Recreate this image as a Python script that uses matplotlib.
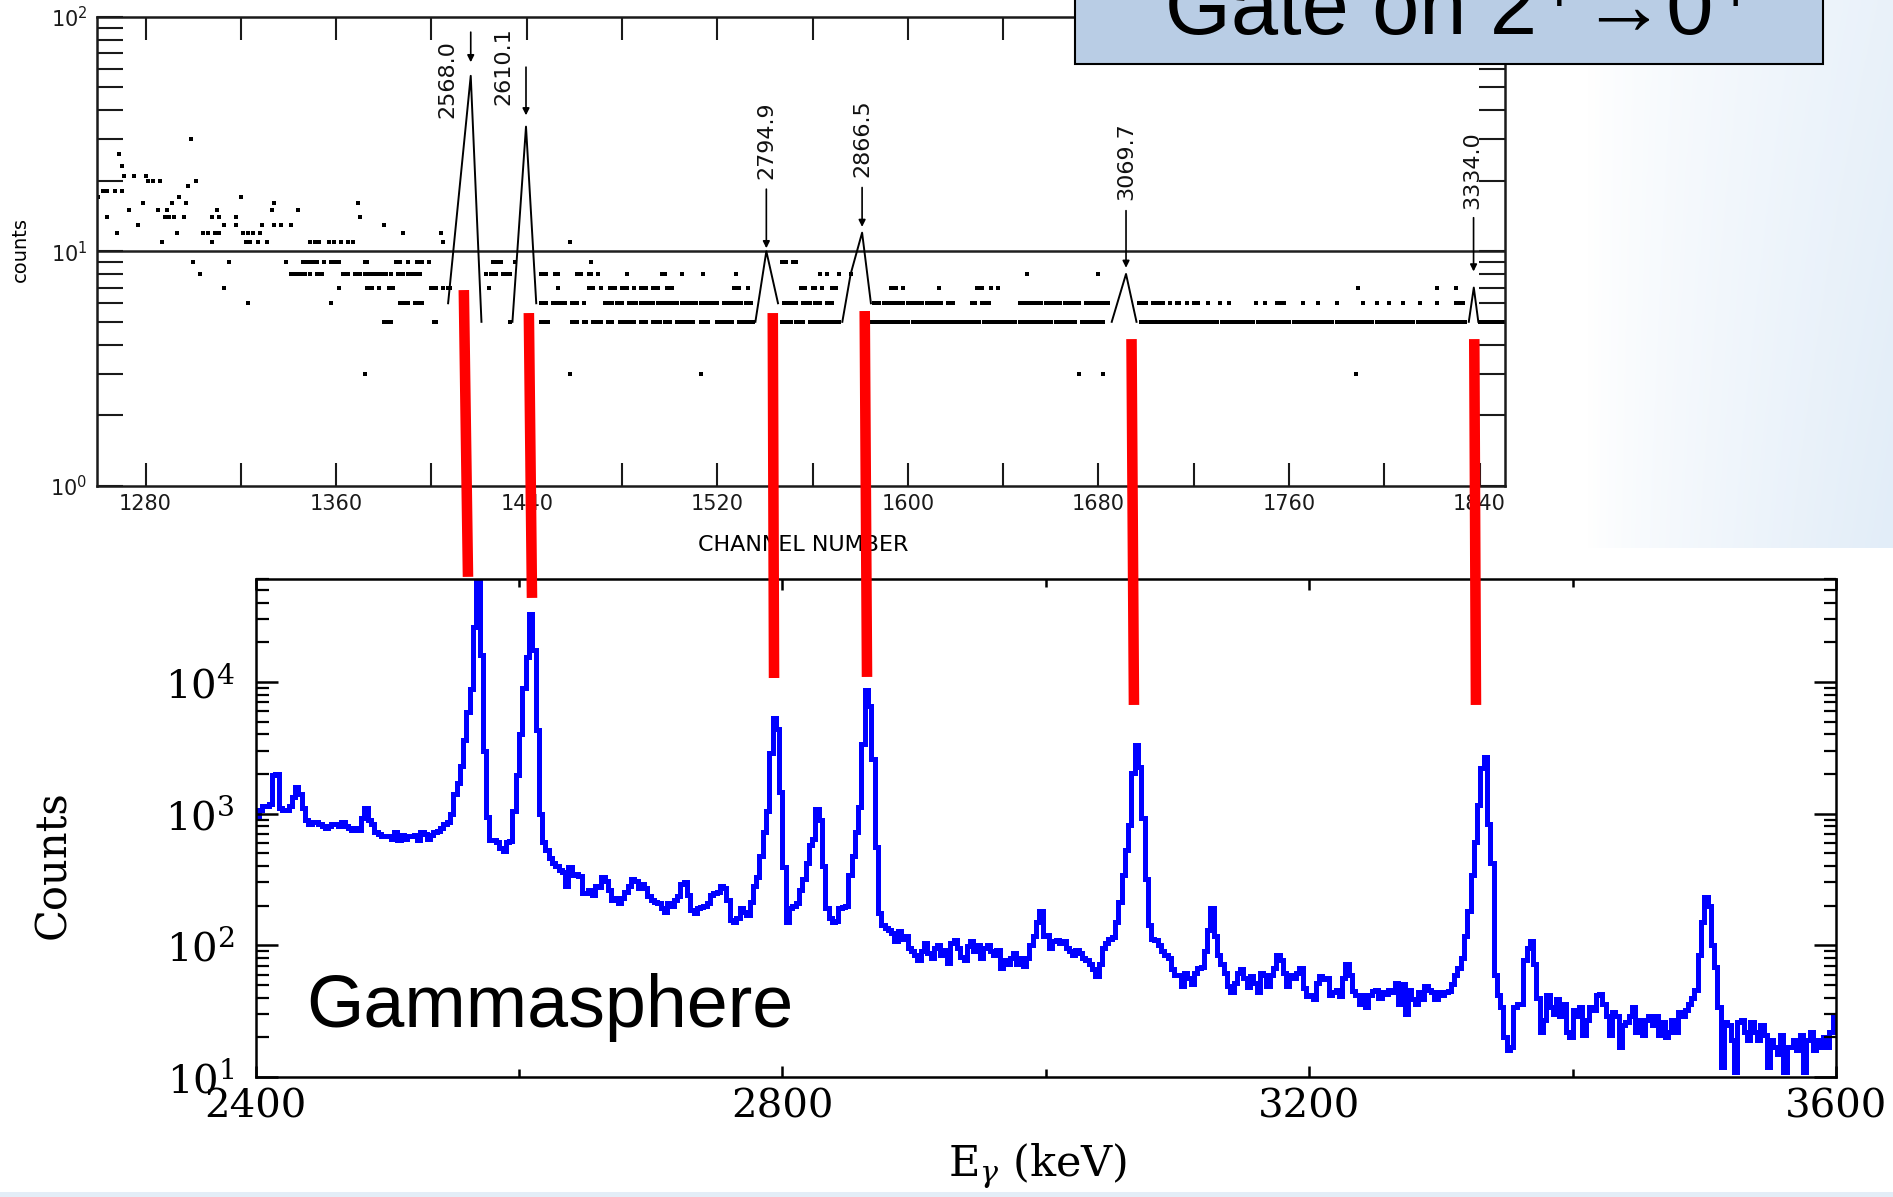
import numpy as np
import matplotlib
matplotlib.use("Agg")
import matplotlib.pyplot as plt
from matplotlib.patches import Rectangle, ConnectionPatch
from matplotlib.ticker import MultipleLocator, FixedLocator, LogLocator, NullFormatter
from matplotlib.colors import LinearSegmentedColormap

W, H = 1893, 1197

# ------------------------------------------------------------------
# top panel: old spectrum, counts vs channel number
# ------------------------------------------------------------------
top_xlim = (1259.6, 1850.7)
top_ylim = (1, 100)
top_yticks = [1, 10, 100]
top_ytick_labels = [r"$10^{0}$", r"$10^{1}$", r"$10^{2}$"]

# single points above the 10-count line (channel, counts)
top_points = [
    (1260, 17), (1262, 18), (1264, 18), (1264, 14), (1267, 18), (1268, 12),
    (1269, 26), (1270, 23), (1270, 18), (1271, 21), (1273, 15), (1275, 21),
    (1277, 13), (1279, 16), (1280, 21), (1281, 20), (1283, 20), (1285, 15),
    (1286, 20), (1287, 11), (1288, 14), (1289, 15), (1290, 14), (1291, 16),
    (1292, 14), (1293, 12), (1294, 17), (1296, 14), (1297, 16), (1298, 19),
    (1299, 30), (1301, 20), (1304, 12), (1306, 12), (1308, 11), (1308, 14),
    (1309, 12), (1310, 15), (1311, 14), (1311, 12), (1313, 13), (1318, 14),
    (1318, 13), (1320, 17), (1321, 12), (1322, 11), (1323, 12), (1324, 11),
    (1325, 12), (1327, 11), (1328, 12), (1329, 13), (1331, 11), (1333, 15),
    (1334, 16), (1334, 13), (1337, 13), (1341, 13), (1344, 15), (1349, 11),
    (1351, 11), (1353, 11), (1357, 11), (1359, 11), (1362, 11), (1365, 11),
    (1367, 11), (1369, 16), (1370, 14), (1380, 13), (1388, 12), (1404, 12),
    (1405, 11), (1458, 11),
]

# runs of neighbouring channels that share one count level (first, last)
runs_9 = [(1300, 1300), (1315, 1315), (1339, 1339), (1346, 1348), (1350, 1352),
          (1355, 1355), (1358, 1361), (1372, 1373), (1385, 1387), (1390, 1390),
          (1394, 1396), (1399, 1399), (1426, 1429), (1435, 1435), (1467, 1467),
          (1547, 1549), (1552, 1553)]
runs_8 = [(1303, 1303), (1341, 1343), (1345, 1347), (1349, 1349), (1352, 1354),
          (1363, 1365), (1368, 1370), (1372, 1377), (1379, 1381), (1383, 1383),
          (1386, 1388), (1390, 1395), (1423, 1423), (1425, 1427), (1430, 1433),
          (1446, 1448), (1452, 1453), (1461, 1463), (1466, 1467), (1470, 1470),
          (1482, 1482), (1497, 1498), (1505, 1505), (1514, 1514), (1528, 1528),
          (1563, 1563), (1566, 1566), (1571, 1571), (1576, 1576), (1650, 1650),
          (1680, 1680)]
runs_7 = [(1313, 1313), (1361, 1361), (1373, 1375), (1378, 1378), (1382, 1384),
          (1400, 1402), (1405, 1405), (1407, 1408), (1424, 1424), (1453, 1453),
          (1466, 1468), (1471, 1471), (1475, 1477), (1480, 1482), (1485, 1485),
          (1488, 1490), (1493, 1495), (1499, 1501), (1527, 1529), (1533, 1533),
          (1555, 1557), (1560, 1561), (1564, 1564), (1568, 1570), (1593, 1595),
          (1598, 1598), (1613, 1613), (1629, 1631), (1635, 1635), (1638, 1638),
          (1789, 1789), (1822, 1822), (1830, 1830)]
runs_6 = [(1323, 1323), (1358, 1358), (1387, 1390), (1393, 1396), (1446, 1448),
          (1451, 1456), (1459, 1461), (1464, 1464), (1473, 1476), (1478, 1480),
          (1483, 1486), (1488, 1493), (1495, 1503), (1505, 1511), (1513, 1520),
          (1523, 1530), (1532, 1534), (1548, 1553), (1556, 1559), (1561, 1563),
          (1566, 1568), (1586, 1588), (1590, 1598), (1600, 1606), (1608, 1614),
          (1617, 1619), (1627, 1628), (1631, 1634), (1647, 1656), (1658, 1664),
          (1666, 1672), (1675, 1684), (1697, 1700), (1703, 1707), (1710, 1710),
          (1713, 1714), (1717, 1717), (1720, 1722), (1726, 1726), (1731, 1731),
          (1735, 1735), (1746, 1746), (1750, 1750), (1755, 1758), (1766, 1766),
          (1772, 1772), (1780, 1780), (1791, 1791), (1797, 1797), (1802, 1802),
          (1808, 1808), (1815, 1815), (1822, 1822), (1830, 1833)]
runs_5 = [(1380, 1383), (1401, 1402), (1433, 1433), (1446, 1449), (1459, 1461),
          (1464, 1465), (1468, 1471), (1474, 1476), (1479, 1485), (1488, 1490),
          (1493, 1496), (1498, 1500), (1503, 1510), (1513, 1516), (1520, 1526),
          (1529, 1535), (1547, 1551), (1553, 1556), (1559, 1563), (1565, 1571),
          (1585, 1600), (1602, 1615), (1617, 1630), (1632, 1645), (1647, 1660),
          (1662, 1670), (1673, 1682), (1698, 1712), (1714, 1730), (1732, 1745),
          (1747, 1760), (1762, 1778), (1780, 1795), (1797, 1812), (1814, 1834),
          (1840, 1850)]
runs_3 = [(1372, 1372), (1458, 1458), (1513, 1513), (1672, 1672), (1682, 1682),
          (1788, 1788)]
run_levels = [9, 8, 7, 6, 5, 3]

# peaks, drawn as connected points
peak_labels = ["2568.0", "2610.1", "2794.9", "2866.5", "3069.7", "3334.0"]
peak_ch = [[1407, 1416.5, 1421], [1434, 1439.7, 1444], [1536, 1540.6, 1545.5],
           [1572.5, 1576, 1580.8, 1584.5], [1685.6, 1691.6, 1696], [1835.5, 1837.6, 1839.5]]
peak_cnt = [[6, 56, 5], [5, 34, 6], [5, 10, 6], [5, 8, 12, 6], [5, 8, 5], [5, 7, 5]]
arrow_ch = [1416.5, 1439.7, 1540.6, 1580.8, 1691.6, 1837.5]
arrow_top = [86, 61, 18.4, 18.7, 14.9, 13.9]
arrow_tip = [64, 38, 10.3, 12.7, 8.5, 8.2]
label_ch = [1406.9, 1430.3, 1540.5, 1580.8, 1691.6, 1837.0]
label_cnt = [36.9, 42.0, 20.4, 20.8, 16.5, 15.1]

# ------------------------------------------------------------------
# bottom panel: Gammasphere spectrum, 2.5 keV bins from 2400 keV
# ------------------------------------------------------------------
E_START, BIN_KEV = 2400, 2.5
gs_counts = [
    950, 1070, 1150, 1150, 1180, 1970, 2000, 1100, 1060, 1070, 1150, 1340, 1600, 1400, 1100, 890, 830, 860, 870, 840,
    800, 780, 810, 830, 840, 810, 860, 800, 780, 750, 780, 750, 920, 1100, 890, 830, 720, 700, 680, 670,
    680, 645, 730, 630, 690, 645, 670, 680, 690, 630, 730, 700, 645, 690, 730, 740, 780, 830, 860, 1000,
    1400, 1700, 2280, 3620, 5900, 8900, 26000, 57000, 16000, 3000, 950, 630, 630, 610, 545, 520, 610, 620, 1040, 1970,
    4000, 9000, 15500, 33000, 17500, 4300, 1000, 610, 530, 460, 420, 400, 375, 360, 280, 390, 342, 350, 335, 250,
    250, 265, 240, 280, 275, 330, 310, 265, 222, 230, 210, 230, 255, 280, 320, 310, 270, 290, 270, 235,
    222, 215, 210, 191, 180, 210, 200, 220, 235, 290, 300, 240, 186, 175, 191, 196, 200, 210, 240, 250,
    255, 280, 270, 222, 155, 150, 160, 191, 180, 170, 215, 280, 330, 480, 730, 1040, 2860, 5300, 4400, 1450,
    390, 150, 191, 200, 210, 265, 320, 420, 580, 640, 1080, 900, 400, 191, 160, 150, 152, 191, 196, 200,
    342, 480, 730, 1130, 3400, 8600, 6600, 2600, 560, 176, 143, 135, 130, 125, 107, 128, 112, 117, 95, 90,
    84, 77, 90, 104, 88, 80, 95, 100, 84, 92, 74, 104, 110, 95, 82, 77, 98, 107, 90, 100,
    80, 95, 100, 90, 84, 92, 67, 77, 72, 80, 88, 72, 80, 70, 80, 100, 117, 150, 182, 117,
    120, 95, 107, 110, 104, 107, 95, 90, 84, 92, 88, 80, 77, 72, 66, 58, 72, 95, 104, 112,
    115, 150, 215, 342, 530, 820, 2050, 3300, 2250, 930, 320, 143, 112, 110, 100, 90, 84, 80, 66, 60,
    60, 49, 62, 56, 51, 62, 67, 69, 90, 130, 191, 117, 84, 72, 62, 49, 44, 52, 62, 66,
    56, 48, 58, 52, 44, 62, 60, 49, 60, 67, 84, 78, 62, 49, 60, 56, 62, 67, 47, 41,
    42, 39, 52, 58, 55, 56, 42, 44, 46, 41, 56, 72, 60, 45, 42, 36, 42, 34, 42, 45,
    46, 40, 44, 43, 46, 44, 52, 36, 51, 30, 46, 39, 36, 44, 39, 49, 46, 44, 39, 44,
    42, 44, 45, 51, 60, 67, 80, 117, 182, 342, 612, 1160, 2200, 2680, 840, 420, 60, 42, 34, 20,
    16, 17, 34, 36, 36, 77, 95, 107, 72, 40, 22, 27, 42, 34, 30, 39, 29, 36, 22, 20,
    32, 29, 34, 21, 27, 34, 32, 42, 43, 36, 29, 21, 31, 29, 17, 25, 26, 29, 34, 22,
    27, 21, 27, 29, 25, 29, 21, 26, 20, 22, 27, 22, 31, 29, 32, 36, 40, 46, 84, 150,
    234, 200, 100, 69, 34, 12, 26, 25, 19, 11, 26, 27, 22, 19, 26, 22, 19, 25, 21, 12,
    19, 17, 15, 21, 11, 17, 17, 19, 16, 21, 11, 19, 22, 16, 19, 17, 20, 17, 22, 29,
]
bot_xticks = [2400, 2800, 3200, 3600]
bot_yticks = [10, 100, 1000, 10000]
bot_ytick_labels = [r"$10^{1}$", r"$10^{2}$", r"$10^{3}$", r"$10^{4}$"]

# red guide lines: top panel (channel, counts) -> bottom panel (keV, counts)
red_top_ch = [1413.6, 1440.9, 1543.3, 1581.9, 1693.9, 1837.8]
red_top_cnt = [6.83, 5.45, 5.45, 5.56, 4.22, 4.22]
red_bot_kev = [2561.2, 2609.8, 2793.6, 2864.2, 3066.9, 3326.6]
red_bot_cnt = [62700, 43400, 10700, 10900, 6680, 6680]

# ------------------------------------------------------------------
fig = plt.figure(figsize=(W / 100, H / 100), dpi=100)

# slide background, pale blue toward the upper right corner
ax_bg = fig.add_axes([1587 / W, 1 - 548 / H, (W - 1587) / W, 548 / H], zorder=-5)
gy, gx = np.mgrid[0:1:120j, 0:1:120j]
bg_cmap = LinearSegmentedColormap.from_list("slide", ["#ffffff", "#e2edf8"])
ax_bg.imshow(np.clip(gx ** 0.8 * (0.75 + 0.25 * gy), 0, 1), cmap=bg_cmap, aspect="auto",
             interpolation="bilinear", vmin=0, vmax=1)
ax_bg.axis("off")
fig.add_artist(Rectangle((0, 0), 1, 5 / H, transform=fig.transFigure,
                         facecolor="#e3edf7", edgecolor="none", zorder=-4))

# ---- top panel ----
ax_top = fig.add_axes([97 / W, 1 - 485.7 / H, 1408 / W, 468.9 / H])
ax_top.set_yscale("log")
ax_top.set_xlim(*top_xlim)
ax_top.set_ylim(*top_ylim)

ax_top.axhline(10, color="#202020", lw=1.8, zorder=1)
px, py = zip(*top_points)
ax_top.scatter(px, py, marker="s", s=6, color="black", linewidths=0, zorder=2)
for runs, lvl in zip([runs_9, runs_8, runs_7, runs_6, runs_5, runs_3], run_levels):
    xs = []
    for a, b in runs:
        xs.extend(range(a, b + 1))
    ax_top.scatter(xs, [lvl] * len(xs), marker="s", s=6, color="black",
                   linewidths=0, zorder=2)

for chs, cnts in zip(peak_ch, peak_cnt):
    ax_top.plot(chs, cnts, color="black", lw=1.4, zorder=3)
for x, y0, y1 in zip(arrow_ch, arrow_top, arrow_tip):
    ax_top.annotate("", xy=(x, y1), xytext=(x, y0),
                    arrowprops=dict(arrowstyle="-|>", color="black", lw=1.2,
                                    mutation_scale=10, shrinkA=0, shrinkB=0))
for lab, x, y in zip(peak_labels, label_ch, label_cnt):
    ax_top.text(x, y, lab, rotation=90, ha="center", va="bottom", fontsize=16,
                color="#111111")

ax_top.xaxis.set_major_locator(MultipleLocator(80))
ax_top.xaxis.set_minor_locator(MultipleLocator(40))
ax_top.yaxis.set_major_locator(FixedLocator(top_yticks))
ax_top.set_yticklabels(top_ytick_labels)
ax_top.yaxis.set_minor_locator(LogLocator(base=10, subs=[2, 3, 4, 5, 6, 7, 8, 9]))
ax_top.yaxis.set_minor_formatter(NullFormatter())
ax_top.tick_params(axis="x", which="both", direction="in", length=16.5, width=1.5,
                   top=True, labelsize=15, pad=6, colors="#1a1a1a")
ax_top.tick_params(axis="y", which="both", direction="in", length=19, width=1.5,
                   right=True, labelsize=15, pad=7, colors="#1a1a1a")
for sp in ax_top.spines.values():
    sp.set_linewidth(1.8)
    sp.set_color("#1a1a1a")
ax_top.set_xlabel("CHANNEL NUMBER", fontsize=16)
ax_top.xaxis.set_label_coords(0.5018, -0.105)
ax_top.text(-0.0547, 0.5027, "counts", rotation=90, transform=ax_top.transAxes,
            ha="center", va="center", fontsize=14)

# ---- bottom panel ----
ax_bot = fig.add_axes([255.7 / W, 1 - 1077 / H, 1580.3 / W, 498 / H])
edges = E_START + BIN_KEV * np.arange(len(gs_counts) + 1)
ax_bot.stairs(gs_counts, edges, baseline=None, color="#0000ff", lw=3.6)
ax_bot.set_yscale("log")
ax_bot.set_xlim(2400, 3600)
ax_bot.set_ylim(10, 60400)

serif = ["DejaVu Serif", "DejaVu Sans"]
ax_bot.set_xticks(bot_xticks)
ax_bot.set_xticklabels([str(t) for t in bot_xticks], family=serif, fontsize=29)
ax_bot.xaxis.set_minor_locator(FixedLocator([2600, 3000, 3400]))
ax_bot.yaxis.set_major_locator(FixedLocator(bot_yticks))
ax_bot.set_yticklabels(bot_ytick_labels, family=serif, fontsize=29,
                       math_fontfamily="dejavuserif")
ax_bot.yaxis.set_minor_locator(LogLocator(base=10, subs=[2, 3, 4, 5, 6, 7, 8, 9]))
ax_bot.yaxis.set_minor_formatter(NullFormatter())
ax_bot.tick_params(axis="x", which="major", direction="in", length=8, width=1.8,
                   top=True, pad=8)
ax_bot.tick_params(axis="x", which="minor", direction="in", length=6, width=1.8, top=True)
ax_bot.tick_params(axis="y", which="major", direction="in", length=16, width=1.8,
                   right=True, pad=15)
ax_bot.tick_params(axis="y", which="minor", direction="in", length=9, width=1.6, right=True)
for sp in ax_bot.spines.values():
    sp.set_linewidth(1.8)

ax_bot.set_xlabel(r"E$_{\gamma}$ (keV)", family=serif, fontsize=31,
                  math_fontfamily="dejavuserif")
ax_bot.xaxis.set_label_coords(0.4947, -0.13)
ax_bot.text(-0.1283, 0.4257, "Counts", rotation=90, transform=ax_bot.transAxes,
            ha="center", va="center", family=serif, fontsize=30)

fig.text(306 / W, 1 - 1027 / H, "Gammasphere", family=["Liberation Sans", "DejaVu Sans"],
         fontsize=53, ha="left", va="baseline")

# gate box at the top
fig.add_artist(Rectangle((1075 / W, 1 - 63.6 / H), 747.6 / W, 80 / H,
                         transform=fig.transFigure, facecolor="#b9cde5",
                         edgecolor="black", lw=1.5, zorder=6))
fig.text(1165 / W, 1 - 34 / H, "Gate on 2⁺→0⁺", family=["Liberation Sans", "DejaVu Sans"],
         fontsize=61, ha="left", va="baseline", zorder=7)

# red guide lines linking the peaks of both spectra
for ca, na, eb, nb in zip(red_top_ch, red_top_cnt, red_bot_kev, red_bot_cnt):
    con = ConnectionPatch(xyA=(ca, na), coordsA="data", axesA=ax_top,
                          xyB=(eb, nb), coordsB="data", axesB=ax_bot,
                          color="#ff0000", lw=7.6, capstyle="butt", zorder=20)
    con.set_annotation_clip(False)
    fig.add_artist(con)

fig.savefig("out.png", dpi=100)
